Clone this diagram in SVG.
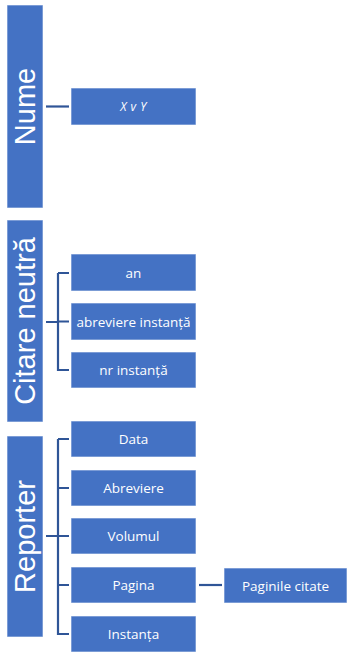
<svg xmlns="http://www.w3.org/2000/svg" width="350" height="658" viewBox="0 0 350 658">
<style>
.box{fill:#4472C4;stroke:#ffffff;stroke-opacity:0.6;stroke-width:1}
.lbl{fill:#ffffff;font-family:"Open Sans","Liberation Sans",Arial,sans-serif;font-size:13.5px;text-anchor:middle;dominant-baseline:central}
.big{fill:#ffffff;font-family:"Liberation Sans",Arial,sans-serif;font-size:29px;text-anchor:middle}
.it{font-style:italic;font-size:12px;letter-spacing:0.5px}
.con{fill:none;stroke:#2F5597;stroke-width:2.2}
</style>
<rect width="350" height="658" fill="#ffffff"/>
<g id="connectors">
<path class="con" d="M46 106.5H69"/>
<path class="con" d="M46 322H58M58 273H69M58 273V370H69M58 321.5H69"/>
<path class="con" d="M46 536H58M58 439H69M58 439V634H69M58 488H69M58 536H69M58 585H69"/>
<path class="con" d="M199 585H222"/>
</g>
<g id="nume"><rect class="box" x="7" y="5" width="36" height="203"/><text class="big" transform="translate(35.4 106.5) rotate(-90)">Nume</text></g>
<g id="xvy"><rect class="box" x="71" y="88" width="125" height="37"/><text class="lbl it" x="133.5" y="106.5">X v Y</text></g>
<g id="citare"><rect class="box" x="7" y="220" width="36" height="202"/><text class="big" transform="translate(35.4 321) rotate(-90)">Citare neutră</text></g>
<g id="an"><rect class="box" x="71" y="254" width="125" height="37"/><text class="lbl" x="133.5" y="272.5">an</text></g>
<g id="abreviere-instanta"><rect class="box" x="71" y="303" width="125" height="37"/><text class="lbl" x="133.5" y="321.5">abreviere instanță</text></g>
<g id="nr-instanta"><rect class="box" x="71" y="352" width="125" height="36"/><text class="lbl" x="133.5" y="370">nr instanță</text></g>
<g id="reporter"><rect class="box" x="7" y="436" width="36" height="201"/><text class="big" transform="translate(35.4 536.5) rotate(-90)">Reporter</text></g>
<g id="data"><rect class="box" x="71" y="421" width="125" height="36"/><text class="lbl" x="133.5" y="439">Data</text></g>
<g id="abreviere"><rect class="box" x="71" y="470" width="125" height="36"/><text class="lbl" x="133.5" y="488">Abreviere</text></g>
<g id="volumul"><rect class="box" x="71" y="518" width="125" height="36"/><text class="lbl" x="133.5" y="536">Volumul</text></g>
<g id="pagina"><rect class="box" x="71" y="567" width="125" height="36"/><text class="lbl" x="133.5" y="585">Pagina</text></g>
<g id="instanta"><rect class="box" x="71" y="616" width="125" height="36"/><text class="lbl" x="133.5" y="634">Instanța</text></g>
<g id="paginile-citate"><rect class="box" x="224" y="568" width="123" height="35"/><text class="lbl" x="285.5" y="585.5">Paginile citate</text></g>
</svg>
